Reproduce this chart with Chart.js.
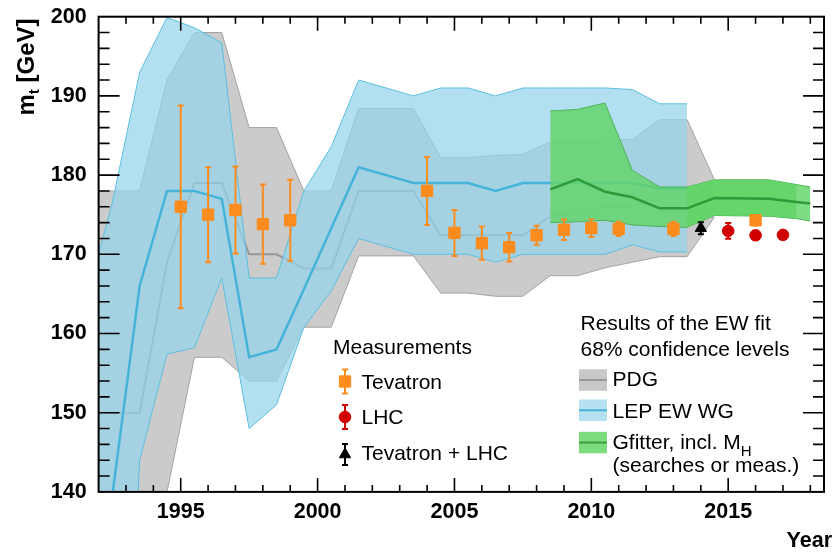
<!DOCTYPE html>
<html>
<head>
<meta charset="utf-8">
<script src="https://cdn.jsdelivr.net/npm/chart.js@4.4.1/dist/chart.umd.min.js"></script>
<style>
  html, body { margin: 0; padding: 0; background: #fff; }
  canvas { display: block; }
</style>
</head>
<body>
<canvas id="mtChart" width="833" height="552"></canvas>
<script>
// PDG band (68% CL), points at mid-year
const pdgYears  = [1991.5, 1992.5, 1993.5, 1994.5, 1995.5, 1996.5, 1997.5, 1998.5, 1999.5, 2000.5, 2001.5, 2003.5, 2004.5, 2005.5, 2006.5, 2007.5, 2008.5, 2009.5, 2010.5, 2011.5, 2012.5, 2013.5, 2014.5];
const pdgUpper  = [178, 178, 178, 192, 198, 198, 186, 186, 178, 178, 188.4, 188.4, 182.2, 182.2, 182.5, 182.6, 184.2, 184.3, 184.5, 184.5, 187, 187, 179.4];
const pdgCenter = [150, 150, 150, 169, 179, 179, 170, 170, 168.2, 168.2, 178, 178, 172.4, 172.4, 172.4, 172.4, 174.8, 175.3, 176, 176, 177.6, 177.6, 177.1];
const pdgLower  = [122, 122, 122, 140, 157, 157, 154, 154, 160.8, 160.8, 169.8, 169.8, 165.1, 165.1, 164.7, 164.7, 167.3, 167.3, 168.3, 169, 169.7, 169.7, 174.7];

// LEP EW WG band
const lepYears  = [1991.5, 1992.5, 1993.5, 1994.5, 1995.5, 1996.5, 1997.5, 1998.5, 1999.5, 2000.5, 2001.5, 2003.5, 2004.5, 2005.5, 2006.5, 2007.5, 2008.5, 2009.5, 2010.5, 2011.5, 2012.5, 2013.5];
const lepUpper  = [163.5, 176.5, 193, 199.9, 198.6, 196.7, 167, 167, 178, 183.6, 192, 190, 191, 191, 190, 191, 191, 191, 191, 190.8, 189, 189];
const lepCenter = [113, 139.5, 166, 178, 178, 177, 157, 158, 165.6, 173.3, 181, 179, 179, 179, 178, 179, 179, 179, 179, 179, 178.3, 178.3];
const lepLower  = [50, 77, 144, 157.4, 158.2, 167, 148, 151, 160.8, 165.4, 172, 170, 170, 170, 169, 170, 170, 170, 170, 171.2, 170.3, 170.3];

// Gfitter band
const gfYears  = [2008.5, 2009.5, 2010.5, 2011.5, 2012.5, 2013.5, 2014.5, 2016.5, 2017.5, 2018];
const gfUpper  = [188.1, 188.3, 189.1, 180.6, 178.5, 178.5, 179.4, 179.4, 178.8, 178.5];
const gfCenter = [178.2, 179.5, 177.9, 177.2, 175.8, 175.8, 177.1, 177.0, 176.6, 176.4];
const gfLower  = [174.0, 174.1, 174.3, 173.7, 173.5, 173.4, 174.9, 174.8, 174.5, 174.2];

// measurements
const tevYears = [1995, 1996, 1997, 1998, 1999, 2004, 2005, 2006, 2007, 2008, 2009, 2010, 2011, 2013, 2016];
const tevMass  = [176.0, 175.0, 175.6, 173.8, 174.3, 178.0, 172.7, 171.4, 170.9, 172.4, 173.1, 173.3, 173.2, 173.2, 174.3];
const tevErr   = [12.8, 6.0, 5.5, 5.0, 5.1, 4.3, 2.9, 2.1, 1.8, 1.2, 1.3, 1.1, 0.9, 0.9, 0.65];
const lhcYears = [2015, 2016, 2017];
const lhcMass  = [172.95, 172.4, 172.45];
const lhcErr   = [1.0, 0.5, 0.5];
const comboYears = [2014];
const comboMass  = [173.3];
const comboErr   = [0.76];

const xTickValues = [1995, 2000, 2005, 2010, 2015];
const yTickValues = [140, 150, 160, 170, 180, 190, 200];

const FONT = "'Liberation Sans', Arial, Helvetica, sans-serif";
const ORANGE = '#fc8c1e';
const RED = '#d00000';

const pts = (xs, ys) => xs.map((x, i) => ({ x: x, y: ys[i] }));

const bandLine = (xs, ys, color, width, order, fillColor) => ({
  data: pts(xs, ys),
  borderColor: color,
  borderWidth: width,
  pointRadius: 0,
  tension: 0,
  order: order,
  fill: fillColor ? '+1' : false,
  backgroundColor: fillColor || 'transparent'
});

const markers = (xs, ys, color, style, radius, order) => ({
  data: pts(xs, ys),
  showLine: false,
  pointStyle: style,
  pointRadius: radius,
  pointBackgroundColor: color,
  pointBorderColor: color,
  pointBorderWidth: 1,
  order: order
});

const datasets = [
  bandLine(pdgYears, pdgUpper, '#a3a3a3', 1, 100, '#cbcbcb'),
  bandLine(pdgYears, pdgLower, '#a3a3a3', 1, 99),
  bandLine(pdgYears, pdgCenter, '#979797', 2, 98),
  bandLine(lepYears, lepUpper, '#5cbfe0', 1, 90, 'rgba(150,212,236,0.72)'),
  bandLine(lepYears, lepLower, '#5cbfe0', 1, 89),
  bandLine(lepYears, lepCenter, '#46b3da', 2.5, 88),
  bandLine(gfYears, gfUpper, '#4eb45a', 1, 80, 'rgba(97,212,103,0.82)'),
  bandLine(gfYears, gfLower, '#4eb45a', 1, 79),
  // second layer where the two Gfitter bands overlap
  bandLine(gfYears.slice(5, 9), gfUpper.slice(5, 9), 'transparent', 0, 78, 'rgba(97,212,103,0.82)'),
  bandLine(gfYears.slice(5, 9), gfLower.slice(5, 9), 'transparent', 0, 77),
  bandLine(gfYears, gfCenter, '#2f9a3a', 2.5, 76),
  markers(tevYears, tevMass, ORANGE, 'rect', 8, 3),
  markers(lhcYears, lhcMass, RED, 'circle', 5.8, 2),
  markers(comboYears, comboMass, '#000', 'triangle', 6.5, 1)
];

// vertical error bars with small caps
const errorBars = {
  id: 'errorBars',
  afterDatasetsDraw: (chart) => {
    const ctx = chart.ctx;
    const x = chart.scales.x, y = chart.scales.y;
    const draw = (xs, ms, es, color) => {
      ctx.strokeStyle = color;
      ctx.lineWidth = 2;
      xs.forEach((v, i) => {
        const px = x.getPixelForValue(v);
        const top = y.getPixelForValue(ms[i] + es[i]);
        const bot = y.getPixelForValue(ms[i] - es[i]);
        ctx.beginPath();
        ctx.moveTo(px, top); ctx.lineTo(px, bot);
        ctx.moveTo(px - 3, top); ctx.lineTo(px + 3, top);
        ctx.moveTo(px - 3, bot); ctx.lineTo(px + 3, bot);
        ctx.stroke();
      });
    };
    ctx.save();
    draw(tevYears, tevMass, tevErr, ORANGE);
    draw(lhcYears, lhcMass, lhcErr, RED);
    draw(comboYears, comboMass, comboErr, '#000');
    ctx.restore();
  }
};

// frame with inward ticks on all four sides, titles and legends
const decorations = {
  id: 'decorations',
  afterDraw: (chart) => {
    const ctx = chart.ctx;
    const a = chart.chartArea;
    const x = chart.scales.x, y = chart.scales.y;
    ctx.save();
    ctx.strokeStyle = '#000';
    ctx.lineWidth = 1.6;
    ctx.beginPath();
    for (let yr = 1993; yr <= 2018; yr++) {
      const px = x.getPixelForValue(yr);
      const len = xTickValues.includes(yr) ? 14 : 7;
      ctx.moveTo(px, a.bottom); ctx.lineTo(px, a.bottom - len);
      ctx.moveTo(px, a.top); ctx.lineTo(px, a.top + len);
    }
    for (let m = 142; m < 200; m += 2) {
      const py = y.getPixelForValue(m);
      const len = yTickValues.includes(m) ? 21 : 11;
      ctx.moveTo(a.left, py); ctx.lineTo(a.left + len, py);
      ctx.moveTo(a.right, py); ctx.lineTo(a.right - len, py);
    }
    ctx.stroke();
    ctx.lineWidth = 2;
    ctx.strokeRect(a.left, a.top, a.right - a.left, a.bottom - a.top);

    // axis titles
    ctx.fillStyle = '#000';
    ctx.textBaseline = 'alphabetic';
    ctx.save();
    ctx.translate(33.5, 115.5);
    ctx.rotate(-Math.PI / 2);
    ctx.font = 'bold 24px ' + FONT;
    ctx.fillText('m', 0, 0);
    let w = ctx.measureText('m').width;
    ctx.font = 'bold 15px ' + FONT;
    ctx.fillText('t', w, 5);
    w += ctx.measureText('t').width;
    ctx.font = 'bold 24px ' + FONT;
    ctx.fillText(' [GeV]', w, 0);
    ctx.restore();
    ctx.textAlign = 'right';
    ctx.fillText('Year', 832, 547);

    // measurements legend
    ctx.textAlign = 'left';
    ctx.font = '21px ' + FONT;
    ctx.fillText('Measurements', 333, 353.5);
    ctx.fillText('Tevatron', 361.5, 389);
    ctx.fillText('LHC', 361.5, 424);
    ctx.fillText('Tevatron + LHC', 361.5, 459.5);
    const legendMarker = (cy, color, style, radius, half) => {
      ctx.strokeStyle = color;
      ctx.fillStyle = color;
      ctx.lineWidth = 2;
      ctx.beginPath();
      ctx.moveTo(345, cy - half); ctx.lineTo(345, cy + half);
      ctx.moveTo(342, cy - half); ctx.lineTo(348, cy - half);
      ctx.moveTo(342, cy + half); ctx.lineTo(348, cy + half);
      ctx.stroke();
      ctx.lineWidth = 1;
      Chart.helpers.drawPoint(ctx, { pointStyle: style, radius: radius, rotation: 0, borderWidth: 1 }, 345, cy);
    };
    legendMarker(381.5, ORANGE, 'rect', 8, 12);
    legendMarker(417, RED, 'circle', 5.8, 12);
    legendMarker(454.5, '#000', 'triangle', 6.5, 10.5);

    // fit results legend
    ctx.fillStyle = '#000';
    ctx.fillText('Results of the EW fit', 580.5, 329.5);
    ctx.fillText('68% confidence levels', 580.5, 356);
    const legendBox = (top, fill, line) => {
      ctx.fillStyle = fill;
      ctx.fillRect(579, top, 28, 21.5);
      ctx.strokeStyle = line;
      ctx.lineWidth = 2;
      ctx.beginPath();
      ctx.moveTo(579, top + 10.75); ctx.lineTo(607, top + 10.75);
      ctx.stroke();
    };
    legendBox(369.3, '#c8c8c8', '#979797');
    legendBox(399.5, '#b5e1f1', '#46b3da');
    legendBox(431.8, '#7ddc7e', '#3a9e42');
    ctx.fillStyle = '#000';
    ctx.fillText('PDG', 612.5, 386);
    ctx.fillText('LEP EW WG', 612.5, 417.5);
    const gLabel = 'Gfitter, incl. M';
    ctx.fillText(gLabel, 612.5, 448.5);
    const gw = ctx.measureText(gLabel).width;
    ctx.font = '15px ' + FONT;
    ctx.fillText('H', 612.5 + gw, 455.5);
    ctx.font = '21px ' + FONT;
    ctx.fillText('(searches or meas.)', 612.5, 472);
    ctx.restore();
  }
};

new Chart(document.getElementById('mtChart'), {
  type: 'line',
  data: { datasets: datasets },
  options: {
    responsive: false,
    animation: false,
    events: [],
    layout: { padding: { left: 38.6, right: 0.8, top: 16.7, bottom: 20.1 } },
    plugins: {
      legend: { display: false },
      tooltip: { enabled: false },
      filler: { propagate: false }
    },
    scales: {
      x: {
        type: 'linear',
        min: 1992,
        max: 2018.5,
        afterBuildTicks: (s) => { s.ticks = xTickValues.map(v => ({ value: v })); },
        afterFit: (s) => { s.height = 40; s.paddingLeft = 0; s.paddingRight = 0; },
        grid: { display: false, drawTicks: false },
        border: { display: false },
        ticks: {
          autoSkip: false,
          maxRotation: 0,
          padding: 7,
          color: '#000',
          font: { family: FONT, size: 21.5, weight: 'bold' },
          callback: (v) => String(v)
        }
      },
      y: {
        type: 'linear',
        min: 140,
        max: 200,
        afterBuildTicks: (s) => { s.ticks = yTickValues.map(v => ({ value: v })); },
        afterFit: (s) => { s.width = 60; s.paddingTop = 0; s.paddingBottom = 0; },
        grid: { display: false, drawTicks: false },
        border: { display: false },
        ticks: {
          padding: 12,
          color: '#000',
          font: { family: FONT, size: 21.5, weight: 'bold' },
          callback: (v) => String(v)
        }
      }
    }
  },
  plugins: [errorBars, decorations]
});
</script>
</body>
</html>
